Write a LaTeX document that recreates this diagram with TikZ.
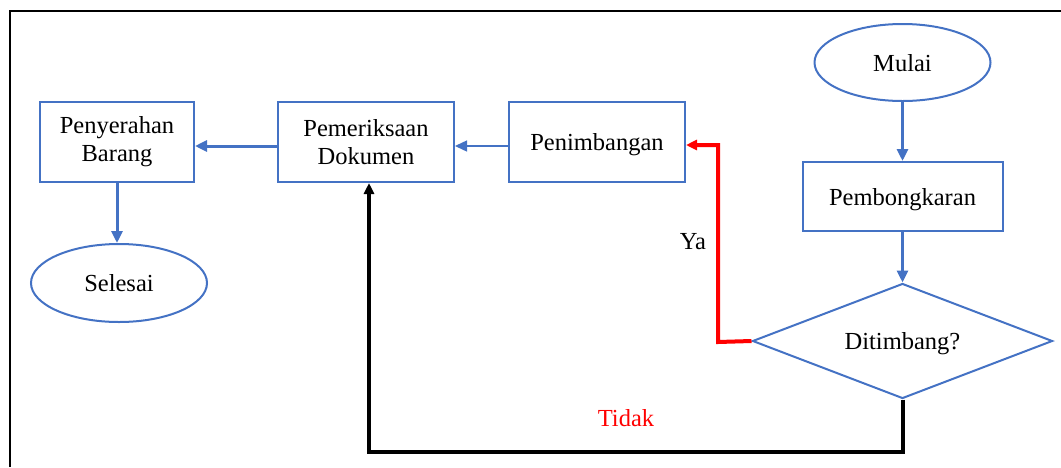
\documentclass[tikz,border=0pt]{standalone}
\usepackage{fontspec}
\setmainfont{Liberation Serif}
\usetikzlibrary{shapes.geometric,arrows.meta}
\definecolor{boxblue}{HTML}{4472C4}
\tikzset{
  base/.style={draw=boxblue, line width=2pt, inner sep=0pt, align=center,
    font=\fontsize{24.5}{28}\selectfont},
  oneline/.style={text height=17pt, text depth=0pt},
  procbox/.style={base, rectangle},
  termin/.style={base, ellipse},
  decide/.style={base, diamond, aspect=2.6},
  flow/.style={draw=boxblue, line width=3pt, -{Triangle[length=12pt,width=11pt]}},
  thinflow/.style={draw=boxblue, line width=1.4pt, -{Triangle[length=12pt,width=11pt]}},
  yesflow/.style={draw=red, line width=4pt, -{Triangle[length=11pt,width=10pt]}},
  noflow/.style={draw=black, line width=4pt, -{Triangle[length=11pt,width=10pt]}},
  lbl/.style={font=\fontsize{24.5}{28}\selectfont, inner sep=0pt}
}
\begin{document}
\begin{tikzpicture}[x=1pt,y=-1pt]
\useasboundingbox (0,0) rectangle (1061,467);
\draw[line width=2pt] (10,467) -- (10,11) -- (1061,11);

\node[termin, oneline, minimum width=176pt, minimum height=77pt] (mulai) at (902.5,62.5) {Mulai};
\node[procbox, oneline, minimum width=200pt, minimum height=69pt] (bongkar) at (902.5,196.5) {Pembongkaran};
\node[decide, oneline, minimum width=300pt, minimum height=115pt] (timbang) at (902.5,341) {Ditimbang?};
\node[procbox, oneline, minimum width=176pt, minimum height=80pt] (penimbangan) at (597,142) {Penimbangan};
\node[procbox, minimum width=176pt, minimum height=80pt] (periksa) at (366,142) {Pemeriksaan\\Dokumen};
\node[procbox, minimum width=154pt, minimum height=80pt] (serah) at (117,142) {Penyerahan\\Barang};
\node[termin, oneline, minimum width=176pt, minimum height=78pt] (selesai) at (119,283) {Selesai};

\draw[flow] (mulai.south) -- (bongkar.north);
\draw[flow] (bongkar.south) -- (timbang.north);
\draw[thinflow] (penimbangan.west |- 0,146) -- (periksa.east |- 0,146);
\draw[flow] (periksa.west |- 0,146) -- (serah.east |- 0,146);
\draw[flow] (serah.south) -- (serah.south |- selesai.north);

\coordinate (ya1) at (718,342);
\coordinate (ya2) at (718,145);
\draw[yesflow] (timbang.west) -- (ya1) -- (ya2) -- (penimbangan.east |- ya2);

\coordinate (td1) at (902.5,452);
\coordinate (td2) at (369,452);
\draw[noflow] (timbang.south) -- (td1) -- (td2) -- (td2 |- periksa.south);

\node[lbl] (ya) at (693,242) {Ya};
\node[lbl, text=red] (tidak) at (626,418) {Tidak};
\end{tikzpicture}
\end{document}
